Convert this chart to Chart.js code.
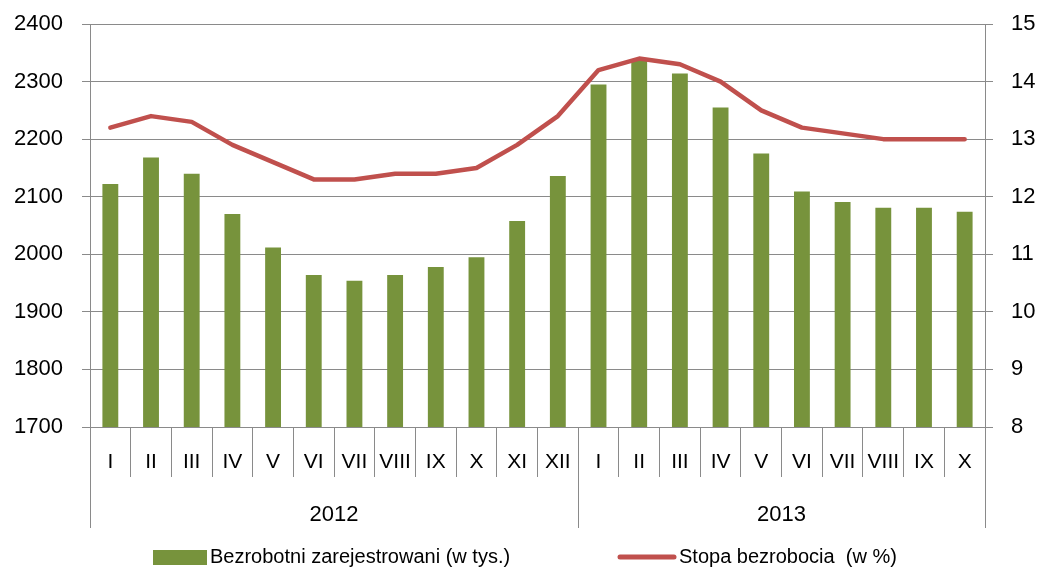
<!DOCTYPE html>
<html>
<head>
<meta charset="utf-8">
<script src="https://cdn.jsdelivr.net/npm/chart.js@4/dist/chart.umd.min.js"></script>
<style>
  html, body { margin: 0; padding: 0; background: #ffffff; }
  #wrap { position: relative; width: 1039px; height: 569px; }
</style>
</head>
<body>
<div id="wrap"><canvas id="c" width="1039" height="569"></canvas></div>
<script>
// ---- data ----
const categories = ['I','II','III','IV','V','VI','VII','VIII','IX','X','XI','XII',
                    'I','II','III','IV','V','VI','VII','VIII','IX','X'];
const years = ['2012', '2013'];
const yearCounts = [12, 10];
const registered = [2122, 2168, 2140, 2070, 2012, 1964, 1954, 1964, 1978, 1995, 2058, 2136,
                    2295, 2336, 2314, 2255, 2175, 2109, 2091, 2081, 2081, 2074];
const rate = [13.2, 13.4, 13.3, 12.9, 12.6, 12.3, 12.3, 12.4, 12.4, 12.5, 12.9, 13.4,
              14.2, 14.4, 14.3, 14.0, 13.5, 13.2, 13.1, 13.0, 13.0, 13.0];
const seriesNames = ['Bezrobotni zarejestrowani (w tys.)', 'Stopa bezrobocia  (w %)'];
const leftTicks = { min: 1700, max: 2400, step: 100 };
const rightTicks = { min: 8, max: 15, step: 1 };

const GREEN = '#77933C';
const RED = '#C0504D';
const GRID = '#8a8a8a';
const FONT = '"Liberation Sans", Arial, sans-serif';

const extras = {
  id: 'extras',
  afterDraw(chart) {
    const ctx = chart.ctx;
    const x = chart.scales.x;
    const area = chart.chartArea;
    ctx.save();
    ctx.strokeStyle = GRID;
    ctx.lineWidth = 1;
    let start = 0;
    const half = (x.getPixelForValue(1) - x.getPixelForValue(0)) / 2;
    const bounds = [x.getPixelForValue(0) - half];
    yearCounts.forEach(n => { start += n; bounds.push(x.getPixelForValue(start - 1) + half); });
    bounds.forEach(bx => {
      const px = Math.round(bx) + 0.5;
      ctx.beginPath();
      ctx.moveTo(px, area.bottom);
      ctx.lineTo(px, area.bottom + 101);
      ctx.stroke();
    });
    ctx.fillStyle = '#000';
    ctx.font = '22px ' + FONT;
    ctx.textAlign = 'center';
    ctx.textBaseline = 'middle';
    years.forEach((y, i) => {
      ctx.fillText(y, (bounds[i] + bounds[i + 1]) / 2, 515);
    });
    // legend
    const ly = 557;
    ctx.fillStyle = GREEN;
    ctx.fillRect(153, 550, 54, 15);
    ctx.font = '20px ' + FONT;
    ctx.textAlign = 'left';
    ctx.fillStyle = '#000';
    ctx.fillText(seriesNames[0], 210, ly);
    ctx.strokeStyle = RED;
    ctx.lineWidth = 5;
    ctx.lineCap = 'round';
    ctx.beginPath();
    ctx.moveTo(620, ly);
    ctx.lineTo(674, ly);
    ctx.stroke();
    ctx.fillText(seriesNames[1], 679, ly);
    ctx.restore();
  }
};

function fitY(width) {
  return s => { s.width = width; s.paddingTop = 12; s.paddingBottom = 12; };
}

new Chart(document.getElementById('c'), {
  data: {
    labels: categories,
    datasets: [
      {
        type: 'line',
        label: seriesNames[1],
        data: rate,
        yAxisID: 'y2',
        borderColor: RED,
        backgroundColor: RED,
        borderWidth: 4.5,
        pointRadius: 0,
        tension: 0,
        borderCapStyle: 'round',
        borderJoinStyle: 'round',
        order: 0
      },
      {
        type: 'bar',
        label: seriesNames[0],
        data: registered,
        yAxisID: 'y',
        backgroundColor: GREEN,
        borderWidth: 0,
        categoryPercentage: 1,
        barPercentage: 0.39,
        order: 1
      }
    ]
  },
  options: {
    responsive: false,
    animation: false,
    layout: { padding: { top: 24, left: 0, right: 0, bottom: 0 } },
    plugins: { legend: { display: false }, tooltip: { enabled: false } },
    scales: {
      x: {
        type: 'category',
        offset: true,
        afterFit(s) { s.height = 142; s.paddingLeft = 0; s.paddingRight = 0; },
        grid: { offset: true, drawOnChartArea: false, tickLength: 50, color: GRID, lineWidth: 1 },
        border: { display: true, color: GRID, width: 1 },
        ticks: { color: '#000', font: { family: FONT, size: 21 }, padding: -27, maxRotation: 0, autoSkip: false }
      },
      y: {
        position: 'left',
        min: leftTicks.min, max: leftTicks.max,
        afterFit: fitY(90),
        grid: { color: GRID, lineWidth: 1, tickLength: 8 },
        border: { display: true, color: GRID, width: 1 },
        ticks: { stepSize: leftTicks.step, color: '#000', font: { family: FONT, size: 22 }, padding: 19,
                 callback: v => String(v) }
      },
      y2: {
        position: 'right',
        min: rightTicks.min, max: rightTicks.max,
        afterFit: fitY(54),
        grid: { drawOnChartArea: false, color: GRID, lineWidth: 1, tickLength: 8 },
        border: { display: true, color: GRID, width: 1 },
        ticks: { stepSize: rightTicks.step, color: '#000', font: { family: FONT, size: 22 }, padding: 18,
                 callback: v => String(v) }
      }
    }
  },
  plugins: [extras]
});
</script>
</body>
</html>
